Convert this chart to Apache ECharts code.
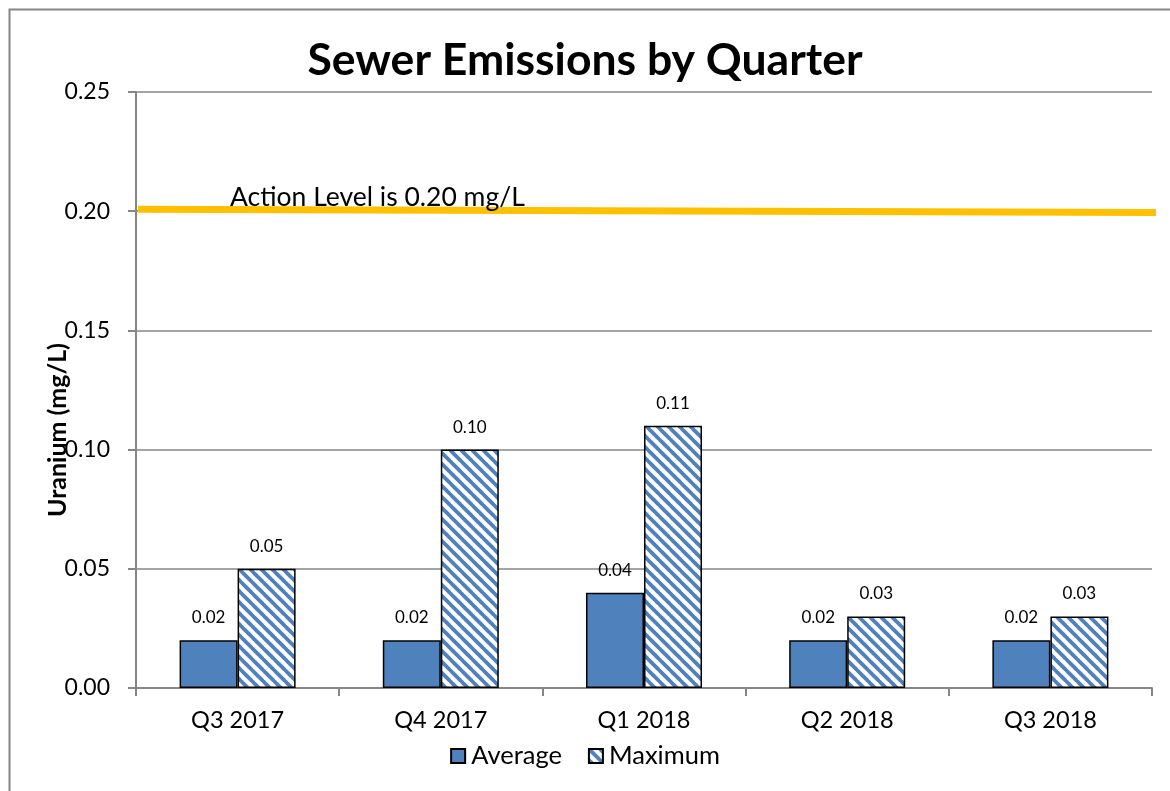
<!DOCTYPE html>
<html><head><meta charset="utf-8">
<script src="https://cdn.jsdelivr.net/npm/echarts@6/dist/echarts.min.js"></script>
<style>html,body{margin:0;padding:0;background:#fff}#c{width:1170px;height:791px}</style>
</head><body><div id="c"></div>
<script>
const categories = ['Q3 2017', 'Q4 2017', 'Q1 2018', 'Q2 2018', 'Q3 2018'];
const averageValues = [0.02, 0.02, 0.04, 0.02, 0.02];
const maximumValues = [0.05, 0.10, 0.11, 0.03, 0.03];
const yMin = 0, yMax = 0.25, yStep = 0.05;
const actionLevelX = [0.002, 1.006];
const actionLevelY = [0.2008, 0.1995];
const actionLabel = 'Action Level is 0.20 mg/L';
const titleText = 'Sewer Emissions by Quarter';
const yAxisTitle = 'Uranium (mg/L)';

const FONT = 'Lato';
const BLUE = '#4F81BD';

function hatch() {
  const p = 11;
  const c = document.createElement('canvas');
  c.width = p; c.height = p;
  const g = c.getContext('2d');
  g.fillStyle = '#fff'; g.fillRect(0, 0, p, p);
  g.strokeStyle = BLUE; g.lineWidth = 3.8;
  for (let k = -1; k <= 1; k++) {
    g.beginPath(); g.moveTo(k * p - 1, -1); g.lineTo(k * p + p + 1, p + 1); g.stroke();
  }
  return c;
}
const hatchFill = { image: hatch(), repeat: 'repeat' };

const chart = echarts.init(document.getElementById('c'), null, { renderer: 'canvas' });
chart.setOption({
  animation: false,
  backgroundColor: '#fff',
  textStyle: { fontFamily: FONT },
  title: {
    text: titleText, left: 'center', top: 33,
    textStyle: { fontFamily: FONT, fontSize: 44.5, fontWeight: 'bold', color: '#000' }
  },
  grid: { left: 136, right: 18, top: 92, bottom: 103, containLabel: false },
  legend: {
    top: 738, left: 'center', itemWidth: 14, itemHeight: 14, itemGap: 26, icon: 'rect',
    textStyle: { fontFamily: FONT, fontSize: 25.5, color: '#000', padding: [0, 0, 0, 1] },
    data: ['Average', 'Maximum']
  },
  xAxis: [
    {
      type: 'category', data: categories,
      axisLine: { lineStyle: { color: '#868686', width: 2 } },
      axisTick: { show: true, length: 8, lineStyle: { color: '#868686', width: 2 } },
      axisLabel: { fontFamily: FONT, fontSize: 23.5, color: '#000', margin: 20 }
    },
    { type: 'value', min: 0, max: 1, show: false }
  ],
  yAxis: {
    type: 'value', min: yMin, max: yMax, interval: yStep,
    axisLine: { show: true, lineStyle: { color: '#868686', width: 2 } },
    axisTick: { show: true, length: 8, lineStyle: { color: '#868686', width: 2 } },
    splitLine: { lineStyle: { color: '#868686', width: 1.5 } },
    axisLabel: { fontFamily: FONT, fontSize: 23, color: '#000', margin: 26, formatter: v => v.toFixed(2) }
  },
  series: [
    {
      name: 'Average', type: 'bar', data: averageValues, barWidth: 58, barGap: '0%',
      itemStyle: { color: BLUE, borderColor: '#000', borderWidth: 1.5 },
      label: { show: true, position: 'top', distance: 14, fontFamily: FONT, fontSize: 17, color: '#000', formatter: p => p.value.toFixed(2) }
    },
    {
      name: 'Maximum', type: 'bar', data: maximumValues, barWidth: 58, barGap: '0%',
      itemStyle: { color: hatchFill, borderColor: '#000', borderWidth: 1.5 },
      label: { show: true, position: 'top', distance: 14, fontFamily: FONT, fontSize: 17, color: '#000', formatter: p => p.value.toFixed(2) }
    },
    {
      name: 'Action Level', type: 'line', xAxisIndex: 1, clip: false, symbol: 'none',
      data: actionLevelX.map((x, i) => [x, actionLevelY[i]]),
      lineStyle: { color: '#FFC000', width: 7 }, z: 1, silent: true
    }
  ],
  graphic: [
    { type: 'rect', left: 7, top: 7, shape: { width: 1200, height: 820 }, style: { fill: null, stroke: '#868686', lineWidth: 2 }, silent: true, z: -10 },
    { type: 'text', left: 230, top: 184, style: { text: actionLabel, fontFamily: FONT, fontSize: 26.5, fill: '#000' }, z: 10 },
    { type: 'text', x: 58, y: 430, rotation: Math.PI / 2, style: { text: yAxisTitle, fontFamily: FONT, fontSize: 25, fontWeight: 'bold', fill: '#000', align: 'center', verticalAlign: 'middle' }, z: 10 }
  ]
});
</script></body></html>
